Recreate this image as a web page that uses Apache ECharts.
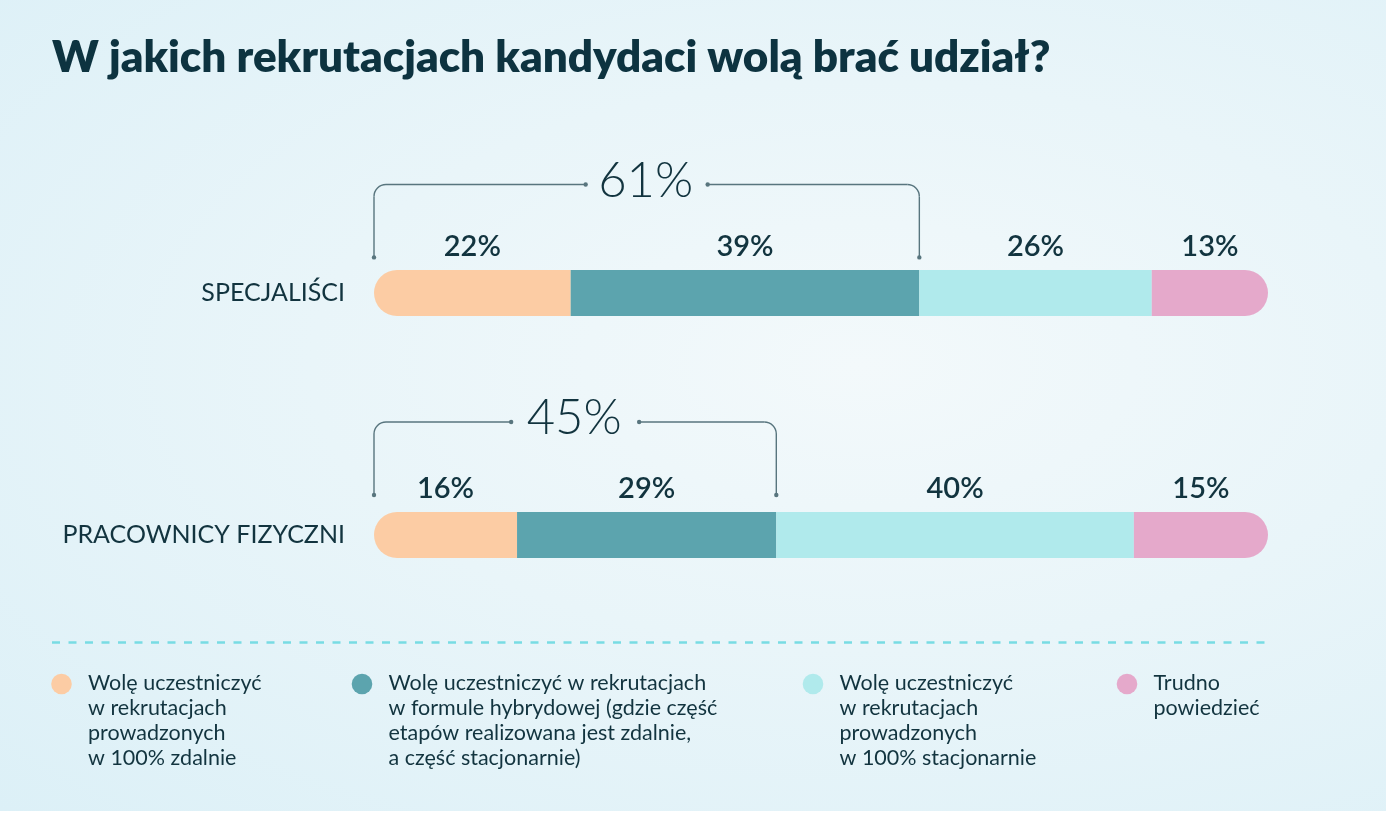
<!DOCTYPE html>
<html>
<head>
<meta charset="utf-8">
<script src="https://cdn.jsdelivr.net/npm/echarts@6/dist/echarts.min.js"></script>
<style>
  html, body { margin: 0; padding: 0; background: #ffffff; }
  #chart {
    width: 1386px; height: 811px;
    background: radial-gradient(ellipse at 62% 45%, #f3f9fb 0%, #e9f5f9 45%, #dcf0f7 100%);
  }
</style>
</head>
<body>
<div id="chart"></div>
<script>
const titleText = 'W jakich rekrutacjach kandydaci wolą brać udział?';
const categories = ['SPECJALIŚCI', 'PRACOWNICY FIZYCZNI'];
const seriesNames = [
  'Wolę uczestniczyć w rekrutacjach prowadzonych w 100% zdalnie',
  'Wolę uczestniczyć w rekrutacjach w formule hybrydowej (gdzie część etapów realizowana jest zdalnie, a część stacjonarnie)',
  'Wolę uczestniczyć w rekrutacjach prowadzonych w 100% stacjonarnie',
  'Trudno powiedzieć'
];
const legendLines = [
  ['Wolę uczestniczyć', 'w rekrutacjach', 'prowadzonych', 'w 100% zdalnie'],
  ['Wolę uczestniczyć w rekrutacjach', 'w formule hybrydowej (gdzie część', 'etapów realizowana jest zdalnie,', 'a część stacjonarnie)'],
  ['Wolę uczestniczyć', 'w rekrutacjach', 'prowadzonych', 'w 100% stacjonarnie'],
  ['Trudno', 'powiedzieć']
];
const remoteValues = [22, 16];
const hybridValues = [39, 29];
const stationaryValues = [26, 40];
const unsureValues = [13, 15];
const bracketTotals = [61, 45];

const colors = ['#fccca4', '#5ca4ae', '#b0eaec', '#e5a9cb'];
const textColor = '#12343f';
const FONT = 'Lato';
const barW = 46;
const R = barW / 2;

// bracket styling per row (offsets above the bar top, gap around the total)
const bracketStyle = [
  { drop: 12.6, rise: 85.5, gap: 61 },
  { drop: 17, rise: 90, gap: 64 }
];

const valueSets = [remoteValues, hybridValues, stationaryValues, unsureValues];
const radii = [[R, 0, 0, R], [0, 0, 0, 0], [0, 0, 0, 0], [0, R, R, 0]];

const chart = echarts.init(document.getElementById('chart'), null, { renderer: 'canvas' });

const series = valueSets.map((vals, i) => ({
  name: seriesNames[i],
  type: 'bar',
  stack: 'total',
  barWidth: barW,
  data: vals,
  itemStyle: { color: colors[i], borderRadius: radii[i] },
  silent: true,
  label: {
    show: true,
    position: 'top',
    distance: 9,
    formatter: '{c}%',
    fontFamily: FONT,
    fontSize: 29,
    fontWeight: 600,
    color: textColor
  }
}));

chart.setOption({
  animation: false,
  backgroundColor: 'transparent',
  title: {
    text: titleText,
    left: 47,
    top: 31,
    textStyle: { fontFamily: FONT, fontSize: 44, fontWeight: 800, color: '#0d3340' }
  },
  grid: { left: 374, right: 1386 - 1268, top: 172, height: 484 },
  xAxis: { type: 'value', min: 0, max: 100, show: false },
  yAxis: {
    type: 'category',
    data: categories,
    inverse: true,
    axisLine: { show: false },
    axisTick: { show: false },
    axisLabel: { margin: 29, fontFamily: FONT, fontSize: 25, fontWeight: 400, color: textColor }
  },
  series: series
});

// Brackets above the first two segments, positioned through the chart scales
const graphics = [];
const lineColor = '#58757e';
const lineStyle = { stroke: lineColor, lineWidth: 1.4, fill: null };
categories.forEach((cat, ci) => {
  const bs = bracketStyle[ci];
  const p0 = chart.convertToPixel({ gridIndex: 0 }, [0, ci]);
  const p1 = chart.convertToPixel({ gridIndex: 0 }, [remoteValues[ci] + hybridValues[ci], ci]);
  const x0 = p0[0], x1 = p1[0];
  const barTop = p0[1] - barW / 2;
  const yDot = barTop - bs.drop;
  const yH = barTop - bs.rise;
  const cx = (x0 + x1) / 2;
  const gap = bs.gap;
  const r = 12;
  graphics.push({ type: 'polyline', silent: true, shape: { points: [[x0, yDot], [x0, yH + r]] }, style: lineStyle });
  graphics.push({ type: 'arc', silent: true, shape: { cx: x0 + r, cy: yH + r, r: r, startAngle: Math.PI, endAngle: Math.PI * 1.5, clockwise: true }, style: lineStyle });
  graphics.push({ type: 'polyline', silent: true, shape: { points: [[x0 + r, yH], [cx - gap, yH]] }, style: lineStyle });
  graphics.push({ type: 'polyline', silent: true, shape: { points: [[cx + gap, yH], [x1 - r, yH]] }, style: lineStyle });
  graphics.push({ type: 'arc', silent: true, shape: { cx: x1 - r, cy: yH + r, r: r, startAngle: Math.PI * 1.5, endAngle: Math.PI * 2, clockwise: true }, style: lineStyle });
  graphics.push({ type: 'polyline', silent: true, shape: { points: [[x1, yH + r], [x1, yDot]] }, style: lineStyle });
  [[x0, yDot], [x1, yDot], [cx - gap, yH], [cx + gap, yH]].forEach(pt => {
    graphics.push({ type: 'circle', silent: true, shape: { cx: pt[0], cy: pt[1], r: 2.2 }, style: { fill: lineColor } });
  });
  graphics.push({
    type: 'text', silent: true,
    style: {
      x: cx - 1, y: yH - 3.5, text: bracketTotals[ci] + '%',
      fontFamily: FONT, fontSize: 49, fontWeight: 300, fill: textColor,
      textAlign: 'center', textVerticalAlign: 'middle'
    }
  });
});

// dashed separator
graphics.push({
  type: 'line', silent: true,
  shape: { x1: 52, y1: 642.5, x2: 1268, y2: 642.5 },
  style: { stroke: '#78dce3', lineWidth: 2.5, lineDash: [8, 8.5] }
});

// legend
const legendX = [61.5, 362, 813, 1127];
legendLines.forEach((lines, i) => {
  graphics.push({ type: 'circle', silent: true, shape: { cx: legendX[i], cy: 684, r: 10.3 }, style: { fill: colors[i] } });
  graphics.push({
    type: 'text', silent: true,
    style: {
      x: legendX[i] + 26.5, y: 671, text: lines.join('\n'),
      fontFamily: FONT, fontSize: 21.5, lineHeight: 25, fill: textColor,
      textAlign: 'left', textVerticalAlign: 'top'
    }
  });
});

chart.setOption({ graphic: graphics });
</script>
</body>
</html>
